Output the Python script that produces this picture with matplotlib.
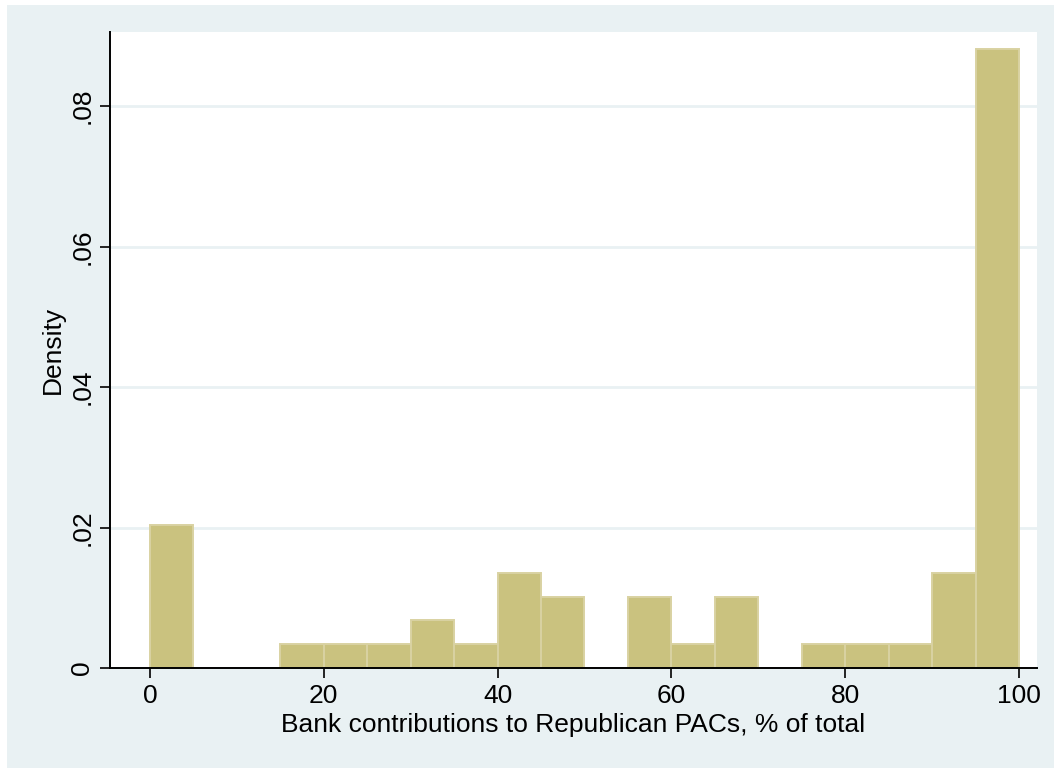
import matplotlib
matplotlib.use("Agg")
import matplotlib.pyplot as plt
from matplotlib.patches import Rectangle
import numpy as np

plt.rcParams['font.family'] = ['Liberation Sans', 'DejaVu Sans']

# Histogram of bank contributions (share going to Republican PACs), 5-point bins
bin_edges = list(range(0, 105, 5))
bin_counts = [6, 0, 0, 1, 1, 1, 2, 1, 4, 3, 0, 3, 1, 3, 0, 1, 1, 1, 4, 26]
bin_width = 5
n_obs = sum(bin_counts)
density = [c / (n_obs * bin_width) for c in bin_counts]

x_ticks = [0, 20, 40, 60, 80, 100]
y_ticks = [0, 0.02, 0.04, 0.06, 0.08]
y_tick_labels = ["0", ".02", ".04", ".06", ".08"]

bg_color = "#E9F1F3"
bar_color = "#CAC27F"
edge_color = "#D9D2A2"

W, H = 1054, 770
fig = plt.figure(figsize=(W / 100, H / 100), dpi=100)
fig.patch.set_facecolor("white")
fig.add_artist(Rectangle((7 / W, 2 / H), 1 - 7 / W, (765 - 2) / H,
                         transform=fig.transFigure, facecolor=bg_color,
                         edgecolor="none", zorder=-10))

ax = fig.add_axes([110 / W, 1 - 668 / H, (1037 - 110) / W, (668 - 32) / H])
ax.set_zorder(1)
ax.set_facecolor("white")

ax.bar(bin_edges[:-1], density, width=bin_width, align="edge",
       color=bar_color, edgecolor=edge_color, linewidth=1.4, zorder=3)

ax.set_xlim(-4.6, 102.07)
ax.set_ylim(0, 0.09054)

ax.set_xticks(x_ticks)
ax.set_yticks(y_ticks)
ax.set_yticklabels(y_tick_labels, rotation=90, va="center")

ax.yaxis.grid(True, color=bg_color, linewidth=2.0, zorder=1)
ax.set_axisbelow(True)

for side in ("top", "right"):
    ax.spines[side].set_visible(False)
for side in ("left", "bottom"):
    ax.spines[side].set_linewidth(1.4)
    ax.spines[side].set_color("black")
    ax.spines[side].set_zorder(4)

ax.tick_params(axis="both", direction="out", length=7.2, width=1.2,
               labelsize=19, color="black", pad=4)

ax.set_xlabel("Bank contributions to Republican PACs, % of total",
              fontsize=19, labelpad=4)
ax.set_ylabel("Density", fontsize=19, labelpad=4)

fig.savefig("out.png", dpi=100, facecolor=fig.get_facecolor())
